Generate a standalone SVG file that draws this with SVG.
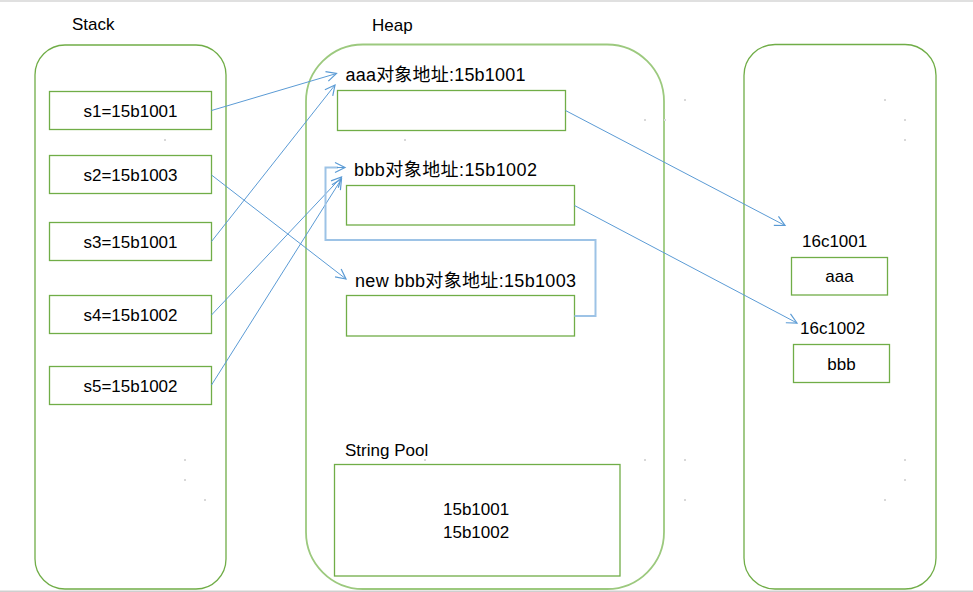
<svg xmlns="http://www.w3.org/2000/svg" width="973" height="592" viewBox="0 0 973 592">
<style>
text{font-family:"Liberation Sans","Noto Sans CJK SC",sans-serif;fill:#000}
.t17{font-size:17px}
.t18{font-size:18px}
.box{fill:#fff;stroke:#70ad47;stroke-width:1.3}
.cont{fill:#fff;stroke:#70ad47;stroke-width:1.3}
.heap{fill:#fff;stroke:#9cc97e;stroke-width:1.8}
.con{fill:none;stroke:#5b9bd5;stroke-width:1}
.loop{fill:none;stroke:#9dc3e6;stroke-width:2}
.dot{fill:#d8d8d8}
</style>
<defs>
<marker id="arr" markerUnits="userSpaceOnUse" markerWidth="14" markerHeight="14" refX="11" refY="6" orient="auto" viewBox="0 0 14 12">
<path d="M1,1 L11,6 L1,11" fill="none" stroke="#5b9bd5" stroke-width="1.2"/>
</marker>
</defs>
<rect x="0" y="0" width="973" height="592" fill="#fff"/>
<rect x="0" y="0" width="973" height="2" fill="#e0e0e0"/>
<rect x="0" y="590.5" width="973" height="1.5" fill="#cfcfcf"/>

<g id="stack">
<text class="t17" x="72" y="30">Stack</text>
<rect class="cont" x="35" y="45" width="191" height="544" rx="30" ry="30"/>
</g>
<g id="heap">
<text class="t17" x="372" y="31">Heap</text>
<rect class="heap" x="306" y="44.5" width="358" height="544.5" rx="57" ry="57"/>
</g>
<g id="rightArea">
<rect class="cont" x="744" y="44.5" width="192" height="544.5" rx="31" ry="31"/>
</g>

<g id="dots">
<rect class="dot" x="184" y="119" width="2" height="2"/>
<rect class="dot" x="204" y="119" width="2" height="2"/>
<rect class="dot" x="164" y="139" width="2" height="2"/>
<rect class="dot" x="424" y="99" width="2" height="2"/>
<rect class="dot" x="424" y="119" width="2" height="2"/>
<rect class="dot" x="404" y="139" width="2" height="2"/>
<rect class="dot" x="644" y="119" width="2" height="2"/>
<rect class="dot" x="664" y="119" width="2" height="2"/>
<rect class="dot" x="684" y="99" width="2" height="2"/>
<rect class="dot" x="884" y="99" width="2" height="2"/>
<rect class="dot" x="904" y="119" width="2" height="2"/>
<rect class="dot" x="904" y="139" width="2" height="2"/>
<rect class="dot" x="184" y="459" width="2" height="2"/>
<rect class="dot" x="184" y="479" width="2" height="2"/>
<rect class="dot" x="204" y="499" width="2" height="2"/>
<rect class="dot" x="424" y="459" width="2" height="2"/>
<rect class="dot" x="424" y="479" width="2" height="2"/>
<rect class="dot" x="424" y="499" width="2" height="2"/>
<rect class="dot" x="644" y="459" width="2" height="2"/>
<rect class="dot" x="684" y="459" width="2" height="2"/>
<rect class="dot" x="684" y="499" width="2" height="2"/>
<rect class="dot" x="904" y="459" width="2" height="2"/>
<rect class="dot" x="904" y="479" width="2" height="2"/>
<rect class="dot" x="884" y="499" width="2" height="2"/>
</g>

<g id="s1"><rect class="box" x="49.5" y="91.5" width="162" height="38"/><text class="t17" x="130.5" y="117" text-anchor="middle">s1=15b1001</text></g>
<g id="s2"><rect class="box" x="49.5" y="155.5" width="162" height="38"/><text class="t17" x="130.5" y="181" text-anchor="middle">s2=15b1003</text></g>
<g id="s3"><rect class="box" x="49.5" y="222.5" width="162" height="38"/><text class="t17" x="130.5" y="248" text-anchor="middle">s3=15b1001</text></g>
<g id="s4"><rect class="box" x="49.5" y="295.5" width="162" height="38"/><text class="t17" x="130.5" y="321" text-anchor="middle">s4=15b1002</text></g>
<g id="s5"><rect class="box" x="49.5" y="366.5" width="162" height="38"/><text class="t17" x="130.5" y="392" text-anchor="middle">s5=15b1002</text></g>

<g id="objAaa"><text class="t18" x="345.5" y="80.5" textLength="180" lengthAdjust="spacing">aaa对象地址:15b1001</text><rect class="box" x="337.5" y="90.5" width="228" height="40"/></g>
<g id="objBbb"><text class="t18" x="354" y="175.5" textLength="183" lengthAdjust="spacing">bbb对象地址:15b1002</text><rect class="box" x="346.5" y="185.5" width="228" height="39.5"/></g>
<g id="objNewBbb"><text class="t18" x="355" y="287" textLength="221" lengthAdjust="spacing">new bbb对象地址:15b1003</text><rect class="box" x="346.5" y="295.5" width="228" height="40.5"/></g>
<g id="stringPool"><text class="t17" x="345" y="456">String Pool</text><rect class="box" x="334.5" y="464.5" width="285.5" height="111.5"/><text class="t17" x="443" y="515">15b1001</text><text class="t17" x="443" y="538">15b1002</text></g>

<g id="c16c1001"><text class="t17" x="802" y="247">16c1001</text><rect class="box" x="791.5" y="257.5" width="96" height="37.5"/><text class="t17" x="839.5" y="282" text-anchor="middle">aaa</text></g>
<g id="c16c1002"><text class="t17" x="800" y="334">16c1002</text><rect class="box" x="793.5" y="344.5" width="96" height="38"/><text class="t17" x="841.5" y="369.5" text-anchor="middle">bbb</text></g>

<g id="connectors">
<line class="con" x1="211.5" y1="110.5" x2="336.5" y2="73.5" marker-end="url(#arr)"/>
<line class="con" x1="211.5" y1="175" x2="346" y2="279" marker-end="url(#arr)"/>
<line class="con" x1="211.5" y1="241.5" x2="335" y2="85" marker-end="url(#arr)"/>
<line class="con" x1="211.5" y1="315" x2="341.5" y2="177" marker-end="url(#arr)"/>
<line class="con" x1="211.5" y1="385" x2="341.5" y2="179" marker-end="url(#arr)"/>
<line class="con" x1="565.5" y1="110.5" x2="785" y2="225.5" marker-end="url(#arr)"/>
<line class="con" x1="574.5" y1="205.5" x2="797" y2="323" marker-end="url(#arr)"/>
<path class="loop" d="M574.5,316 H595.5 V240 H325.5 V167.5 H338"/>
<line class="con" x1="337" y1="167.5" x2="345" y2="167.5" marker-end="url(#arr)"/>
</g>
</svg>
